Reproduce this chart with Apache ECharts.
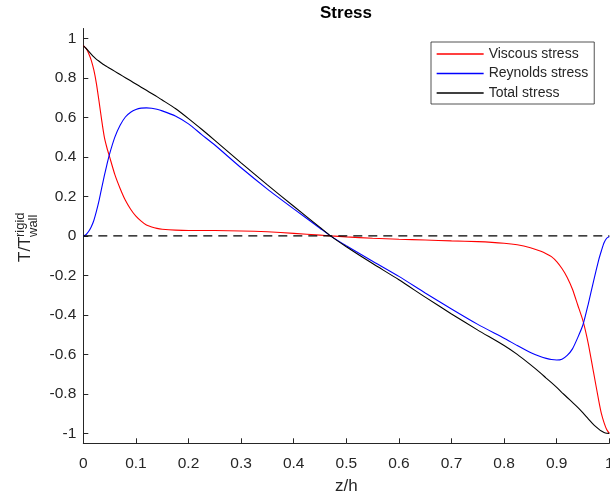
<!DOCTYPE html>
<html>
<head>
<meta charset="utf-8">
<script src="https://cdn.jsdelivr.net/npm/echarts@6/dist/echarts.min.js"></script>
<style>
html,body{margin:0;padding:0;background:#fff;}
#chart{width:610px;height:497px;}
</style>
</head>
<body>
<div id="chart"></div>
<script>
// z/h positions (shared by the three curves)
var zh = [0, 0.005, 0.01, 0.015, 0.02, 0.025, 0.03, 0.035, 0.04, 0.045, 0.05, 0.06, 0.07, 0.08, 0.09, 0.1,
  0.11, 0.12, 0.13, 0.14, 0.15, 0.175, 0.2, 0.225, 0.25, 0.3, 0.35, 0.4, 0.45, 0.47, 0.5, 0.55, 0.6, 0.65,
  0.7, 0.75, 0.8, 0.825, 0.85, 0.87, 0.88, 0.89, 0.9, 0.91, 0.92, 0.93, 0.94, 0.95, 0.96, 0.97, 0.98,
  0.985, 0.99, 0.995, 1.0];

var viscous = [0.963, 0.950, 0.925, 0.890, 0.840, 0.770, 0.680, 0.585, 0.500, 0.445, 0.400, 0.310, 0.240, 0.180, 0.135, 0.100,
  0.075, 0.055, 0.045, 0.038, 0.034, 0.029, 0.027, 0.027, 0.027, 0.025, 0.021, 0.013, 0.004, 0.0, -0.005, -0.012, -0.017, -0.021,
  -0.025, -0.029, -0.037, -0.045, -0.060, -0.078, -0.090, -0.105, -0.130, -0.165, -0.210, -0.270, -0.350, -0.430, -0.545, -0.690, -0.835,
  -0.900, -0.945, -0.980, -1.000];

var reynolds = [0.0, 0.006, 0.022, 0.045, 0.078, 0.125, 0.180, 0.243, 0.305, 0.362, 0.415, 0.500, 0.560, 0.602, 0.626, 0.640,
  0.647, 0.648, 0.646, 0.641, 0.633, 0.607, 0.567, 0.513, 0.460, 0.345, 0.237, 0.137, 0.039, 0.0, -0.050, -0.128, -0.205, -0.289,
  -0.370, -0.448, -0.518, -0.555, -0.590, -0.612, -0.620, -0.626, -0.628, -0.624, -0.605, -0.572, -0.515, -0.450, -0.345, -0.230, -0.120,
  -0.075, -0.035, -0.012, -0.003];

var total = [0.963, 0.950, 0.935, 0.920, 0.906, 0.894, 0.884, 0.874, 0.865, 0.857, 0.849, 0.833, 0.817, 0.801, 0.785, 0.769,
  0.753, 0.737, 0.721, 0.705, 0.688, 0.645, 0.594, 0.540, 0.484, 0.370, 0.258, 0.150, 0.043, 0.0, -0.055, -0.140, -0.222, -0.310,
  -0.395, -0.477, -0.555, -0.600, -0.652, -0.696, -0.720, -0.743, -0.767, -0.793, -0.818, -0.843, -0.868, -0.896, -0.926, -0.955, -0.978,
  -0.988, -0.995, -0.999, -1.000];

// dashed reference line at zero
var zeroX = [0, 1];
var zeroY = [0, 0];

var yTicks = [-1, -0.8, -0.6, -0.4, -0.2, 0, 0.2, 0.4, 0.6, 0.8, 1];
var seriesNames = ['Viscous stress', 'Reynolds stress', 'Total stress'];
var seriesColors = ['#ff0000', '#0000ff', '#000000'];

function pairs(xs, ys) {
  var out = [];
  for (var i = 0; i < xs.length; i++) out.push([xs[i], ys[i]]);
  return out;
}

var FONT = 'Liberation Sans, Arial, Helvetica, sans-serif';
var AX = '#262626';

var chart = echarts.init(document.getElementById('chart'), null, {renderer: 'canvas'});

function curve(name, ys, color) {
  return {
    name: name, type: 'line', data: pairs(zh, ys), symbol: 'none', showSymbol: false,
    smooth: 0.2, color: color,
    lineStyle: {color: color, width: 1.1}, itemStyle: {color: color},
    emphasis: {disabled: true}, z: 3
  };
}

var legendData = seriesNames.map(function (n, i) {
  return {
    name: n,
    itemStyle: {color: 'rgba(0,0,0,0)', borderColor: 'rgba(0,0,0,0)', borderWidth: 0, opacity: 0},
    lineStyle: {color: seriesColors[i], width: 1.3, opacity: 1}
  };
});

chart.setOption({
  animation: false,
  backgroundColor: '#ffffff',
  title: {
    text: 'Stress', left: 346, top: 5, textAlign: 'center', padding: 0,
    textStyle: {fontFamily: FONT, fontSize: 17, fontWeight: 'bold', color: '#000'}
  },
  grid: {left: 83.3, right: 0.7, top: 28.5, bottom: 53.7, containLabel: false, outerBoundsMode: 'none'},
  legend: {
    data: legendData, orient: 'vertical', left: 431, top: 42,
    padding: [5, 6, 4, 5], itemGap: 5.5, itemWidth: 47, itemHeight: 14,
    borderColor: AX, borderWidth: 0.8, backgroundColor: '#ffffff', borderRadius: 0,
    selectedMode: false,
    textStyle: {fontFamily: FONT, fontSize: 14, color: AX, lineHeight: 14, padding: [0, 0, 0, 0]}
  },
  xAxis: {
    type: 'value', min: 0, max: 1, interval: 0.1,
    name: 'z/h', nameLocation: 'middle', nameGap: 35,
    nameTextStyle: {fontFamily: FONT, fontSize: 17, color: AX},
    axisLine: {show: true, onZero: false, lineStyle: {color: AX, width: 1}},
    axisTick: {show: true, inside: true, length: 5, lineStyle: {color: AX, width: 1}},
    axisLabel: {show: true, margin: 12, fontFamily: FONT, fontSize: 15.5, color: AX, showMaxLabel: true, showMinLabel: true,
      formatter: function (v) { return String(Math.round(v * 10) / 10); }},
    splitLine: {show: false}
  },
  yAxis: {
    type: 'value', min: -1.05, max: 1.05,
    axisLine: {show: true, onZero: false, lineStyle: {color: AX, width: 1}},
    axisTick: {show: true, inside: true, length: 5, customValues: yTicks, lineStyle: {color: AX, width: 1}},
    axisLabel: {show: true, margin: 7, fontFamily: FONT, fontSize: 15.5, color: AX, customValues: yTicks,
      formatter: function (v) { return String(Math.round(v * 10) / 10); }},
    splitLine: {show: false}
  },
  graphic: [{
    type: 'group', x: 0, y: 262, rotation: Math.PI / 2, silent: true,
    children: [
      {type: 'text', x: 0, y: 25, style: {text: 'T/T', fontFamily: FONT, fontSize: 17, fill: AX, align: 'left', verticalAlign: 'middle'}},
      {type: 'text', x: 25, y: 20, style: {text: 'rigid', fontFamily: FONT, fontSize: 13, fill: AX, align: 'left', verticalAlign: 'middle'}},
      {type: 'text', x: 25, y: 33, style: {text: 'wall', fontFamily: FONT, fontSize: 13, fill: AX, align: 'left', verticalAlign: 'middle'}}
    ]
  }],
  series: [
    curve(seriesNames[0], viscous, seriesColors[0]),
    curve(seriesNames[1], reynolds, seriesColors[1]),
    curve(seriesNames[2], total, seriesColors[2]),
    {
      name: 'zero', type: 'line', data: pairs(zeroX, zeroY), symbol: 'none', showSymbol: false,
      lineStyle: {color: '#000000', width: 1.2, type: [9, 6]}, emphasis: {disabled: true}, z: 4
    }
  ]
});
</script>
</body>
</html>
